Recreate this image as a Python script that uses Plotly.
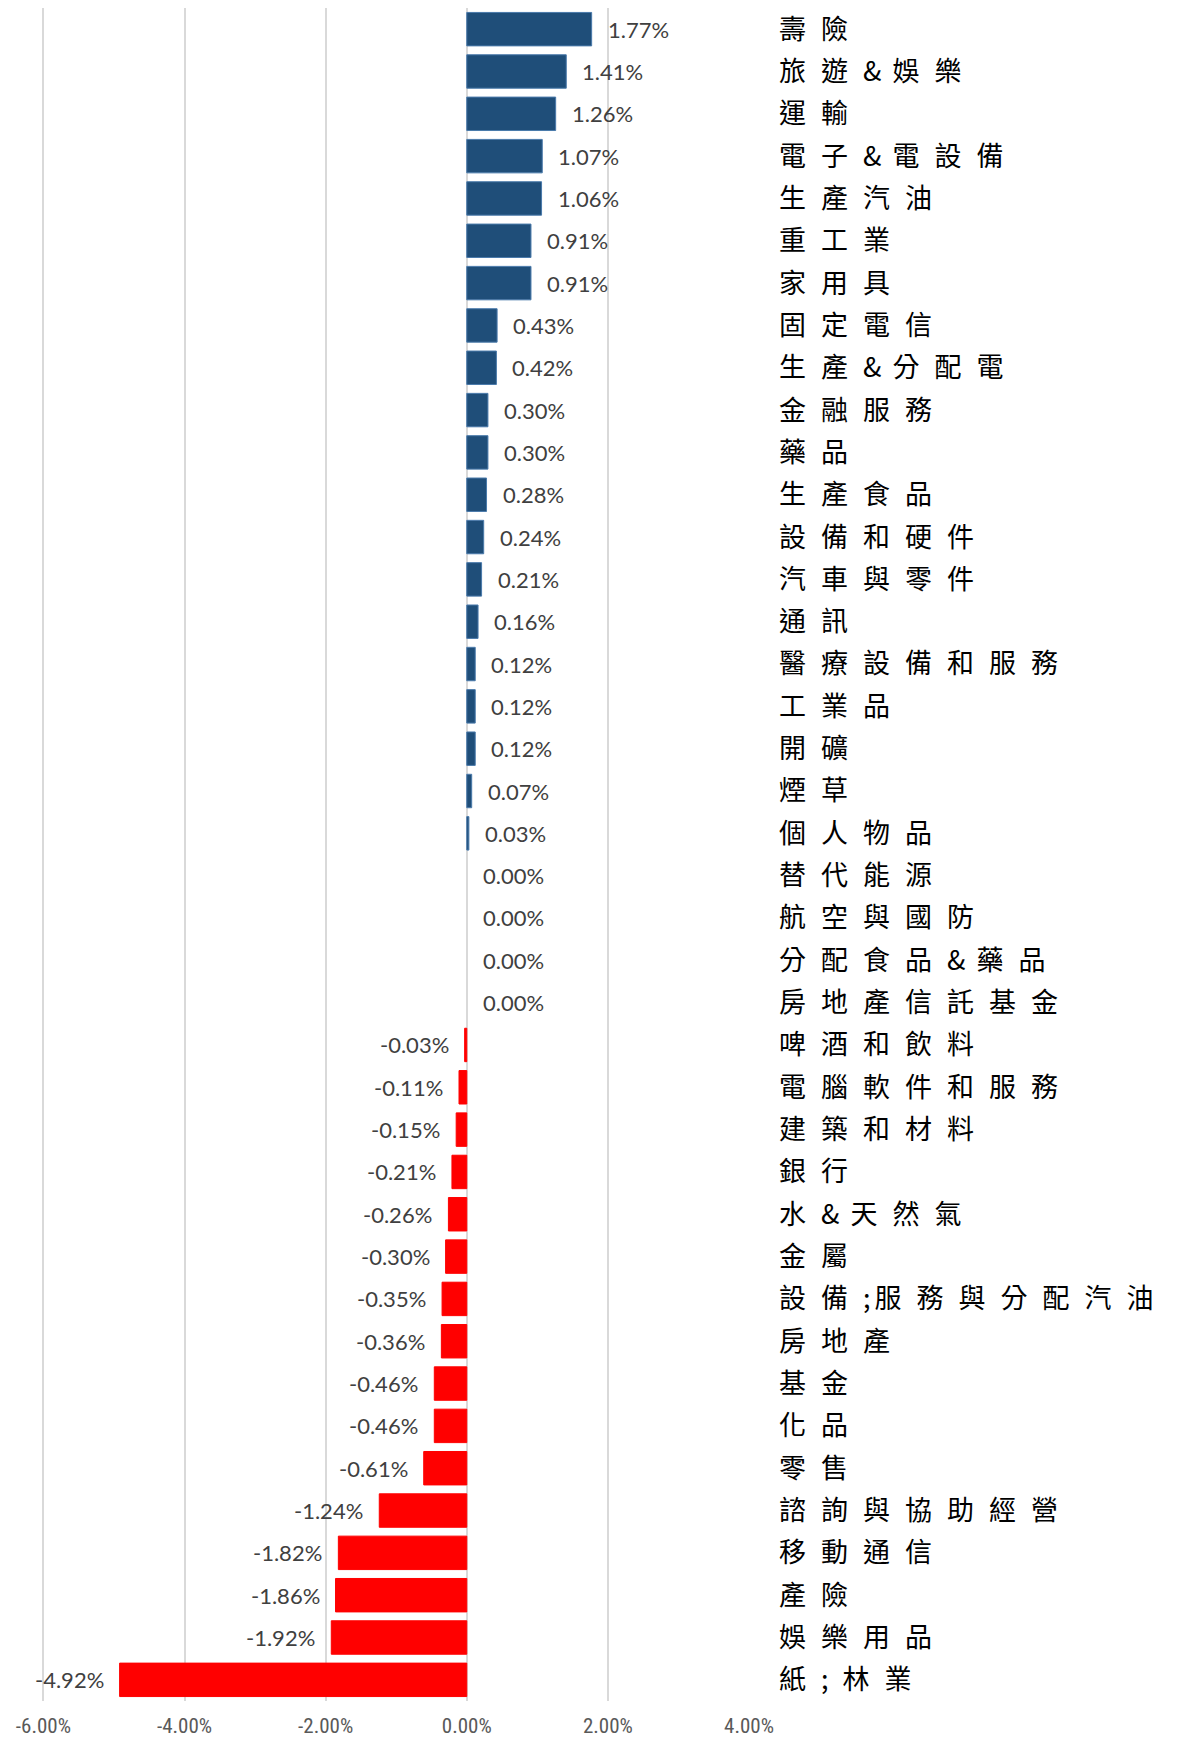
import plotly.graph_objects as go

categories = ["壽險", "旅遊&娛樂", "運輸", "電子&電設備", "生產汽油", "重工業", "家用具", "固定電信",
              "生產&分配電", "金融服務", "藥品", "生產食品", "設備和硬件", "汽車與零件", "通訊",
              "醫療設備和服務", "工業品", "開礦", "煙草", "個人物品", "替代能源", "航空與國防",
              "分配食品&藥品", "房地產信託基金", "啤酒和飲料", "電腦軟件和服務", "建築和材料", "銀行",
              "水&天然氣", "金屬", "設備;服務與分配汽油", "房地產", "基金", "化品", "零售",
              "諮詢與協助經營", "移動通信", "產險", "娛樂用品", "紙; 林業"]
values = [1.77, 1.41, 1.26, 1.07, 1.06, 0.91, 0.91, 0.43, 0.42, 0.30, 0.30, 0.28, 0.24, 0.21, 0.16,
          0.12, 0.12, 0.12, 0.07, 0.03, 0.00, 0.00, 0.00, 0.00, -0.03, -0.11, -0.15, -0.21, -0.26,
          -0.30, -0.35, -0.36, -0.46, -0.46, -0.61, -1.24, -1.82, -1.86, -1.92, -4.92]
x_ticks = [-6, -4, -2, 0, 2, 4]
x_tick_labels = ["-6.00%", "-4.00%", "-2.00%", "0.00%", "2.00%", "4.00%"]

POS = "#1F4E79"
NEG = "#FF0000"
colors = [POS if v >= 0 else NEG for v in values]
line_colors = ["#4A7AAB" if v >= 0 else NEG for v in values]
line_widths = [0 if v == 0 else 1 for v in values]

fig = go.Figure()
fig.add_trace(go.Bar(
    y=categories, x=values, orientation="h",
    marker=dict(color=colors, line=dict(color=line_colors, width=line_widths)),
    hoverinfo="skip",
))

for c, v in zip(categories, values):
    neg = v < 0
    fig.add_annotation(
        x=v, y=c, xref="x", yref="y",
        text=f"{v:.2f}%",
        showarrow=False,
        xanchor="right" if neg else "left",
        xshift=-14 if neg else 14,
        font=dict(family="Lato", size=22, color="#404040"),
    )


def spaced(label):
    # wide spacing for CJK glyphs, tighter spacing for ASCII symbols
    out = []
    for ch in label:
        if ord(ch) > 127:
            ls = 15
        elif ch == "&":
            ls = 11
        else:
            ls = 4
        out.append(f'<span style="letter-spacing:{ls}px">{ch}</span>')
    return "".join(out)


tick_text = [spaced(c) for c in categories]

fig.update_layout(
    width=1176, height=1736,
    margin=dict(l=34, r=435, t=0, b=43, autoexpand=False),
    paper_bgcolor="white", plot_bgcolor="white",
    bargap=0.21,
    showlegend=False,
    xaxis=dict(
        range=[-6.02, 4], tickmode="array", tickvals=x_ticks, ticktext=x_tick_labels,
        showgrid=True, gridcolor="#D9D9D9", gridwidth=1.5, zeroline=False,
        tickfont=dict(family="Liberation Sans Narrow, Roboto Condensed, Lato", size=21, color="#595959"),
        ticks="", ticklabelstandoff=10, showline=False, automargin=False,
    ),
    yaxis=dict(
        side="right", autorange="reversed", type="category",
        tickmode="array", tickvals=categories, ticktext=tick_text,
        showgrid=False, zeroline=False, showline=False, ticks="",
        ticklabelstandoff=29, automargin=False,
        tickfont=dict(family="Noto Sans CJK TC", size=27, color="#000000"),
    ),
)

fig.write_html("out.html")
